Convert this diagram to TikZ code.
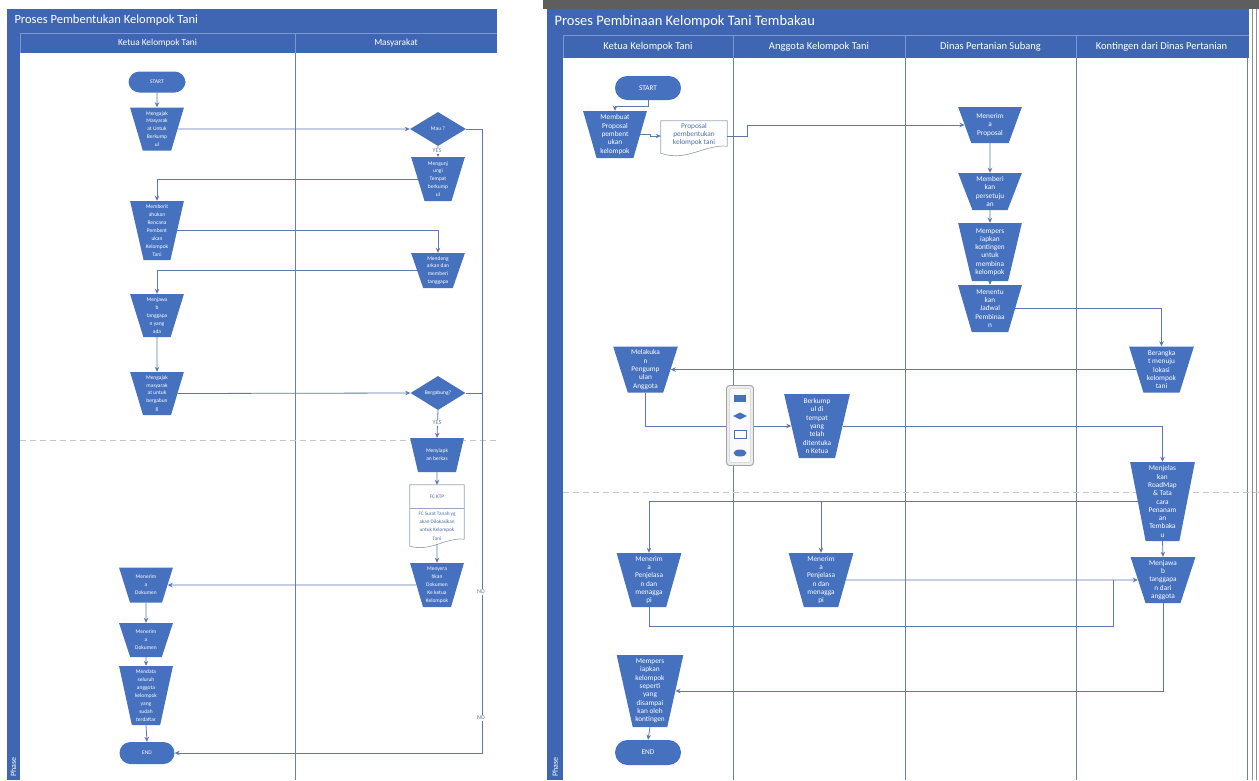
\documentclass[tikz,border=0pt]{standalone}
\usepackage{fontspec}
\setmainfont{Carlito}
\usetikzlibrary{shapes.geometric,arrows.meta,calc}

\definecolor{band}{HTML}{3E66B3}
\definecolor{boxblue}{HTML}{4571BE}
\definecolor{wire}{HTML}{5B79AC}
\definecolor{laneline}{HTML}{6C80A8}
\definecolor{seam}{HTML}{7A98D2}
\definecolor{dashgray}{HTML}{C6C6C6}
\definecolor{topbar}{HTML}{5E5E5E}
\definecolor{doctext}{HTML}{4E6DA6}
\definecolor{docedge}{HTML}{9AA6BC}
\definecolor{palgray}{HTML}{A2A2A2}
\definecolor{palfill}{HTML}{EDEDED}
\definecolor{tagtext}{HTML}{6E7B91}

\tikzset{
  link/.style={draw=wire, line width=0.8pt},
  flow/.style={link, -{Stealth[length=5pt,width=4.5pt]}},
  term/.style={rectangle, rounded corners=11pt, fill=boxblue, text=white, inner sep=0pt},
  proc/.style={trapezium, trapezium stretches=true, trapezium left angle=#1,
    trapezium right angle=#1, fill=boxblue, text=white, align=center, inner sep=1pt},
  decide/.style={diamond, aspect=1.6, fill=boxblue, text=white, inner sep=0pt},
  smallL/.style={font=\fontsize{5.5}{7.9}\selectfont},
  smallR/.style={font=\fontsize{7.3}{8.3}\selectfont},
  tag/.style={fill=white, text=tagtext, inner sep=0.8pt, font=\fontsize{6}{7}\selectfont},
  lanerule/.style={draw=laneline, line width=1pt},
  seamrule/.style={draw=seam, line width=0.6pt},
  phase/.style={rotate=90, text=white, font=\fontsize{8}{9}\selectfont},
  docline/.style={draw=docedge, fill=white, line width=0.7pt},
  doctxt/.style={text=doctext, align=center, inner sep=0pt},
  phaseline/.style={draw=dashgray, line width=0.9pt, dash pattern=on 6pt off 4pt},
}

\begin{document}
\begin{tikzpicture}[x=1pt,y=-1pt]
\useasboundingbox (0,0) rectangle (1259,780);
\fill[white] (0,0) rectangle (1259,780);

% ---------------- first pool: Proses Pembentukan Kelompok Tani ----------------
\fill[band] (7,9) rectangle (497,53);
\fill[band] (7,53) rectangle (20,780);
\draw[seamrule] (20,33) -- (497,33);
\draw[seamrule] (20,33) -- (20,53);
\draw[seamrule] (295,33) -- (295,53);
\draw[lanerule] (295,53) -- (295,780);
\draw[phaseline] (20,440) -- (497,440);

\node[anchor=west, text=white, font=\fontsize{12.5}{14}\selectfont] (L_title) at (11,20) {Proses Pembentukan Kelompok Tani};
\node[text=white, font=\fontsize{9.3}{11}\selectfont] (L_head1) at (157.5,43) {Ketua Kelompok Tani};
\node[text=white, font=\fontsize{9.3}{11}\selectfont] (L_head2) at (396,43) {Masyarakat};
\node[phase] (L_phase) at (13.5,767) {Phase};

% steps
\node[term, minimum width=57pt, minimum height=21pt, smallL] (L_start) at (157,82) {START};
\node[proc=106, minimum width=54pt, minimum height=43pt, smallL] (L_ajak) at (157,129) {Mengajak\\Masyarak\\at Untuk\\Berkump\\ul};
\node[decide, minimum width=56pt, minimum height=34pt, smallL] (L_mau) at (438,129) {Mau ?};
\node[proc=106.5, minimum width=54pt, minimum height=44pt, smallL] (L_kunjung) at (438,179) {Mengunj\\ungi\\Tempat\\berkump\\ul};
\node[proc=103, minimum width=54pt, minimum height=59pt, smallL] (L_tahu) at (157,230.5) {Memberit\\ahukan\\Rencana\\Pembent\\ukan\\Kelompok\\Tani};
\node[proc=108, minimum width=54pt, minimum height=35pt, smallL] (L_dengar) at (438,270.5) {Mendeng\\arkan dan\\memberi\\tanggapa};
\node[proc=106.5, minimum width=54pt, minimum height=43pt, smallL] (L_jawab) at (157,315.5) {Menjawa\\b\\tanggapa\\n yang\\ada};
\node[proc=106, minimum width=54pt, minimum height=43pt, smallL] (L_ajak2) at (157,393.5) {Mengajak\\masyarak\\at untuk\\bergabun\\g};
\node[decide, minimum width=55pt, minimum height=34pt, smallL] (L_gabung) at (438,393) {Bergabung?};
\node[proc=110, minimum width=54pt, minimum height=34pt, smallL] (L_siap) at (437,455) {Menyiapk\\an berkas};

% document with two parts
\node[minimum width=54pt, minimum height=58pt, inner sep=0pt] (L_doc) at (437,514) {};
\draw[docline] (L_doc.north west) -- (L_doc.north east) -- ($(L_doc.south east)+(0,-4)$)
  .. controls ($(L_doc.south east)+(-19,-6)$) and ($(L_doc.south west)+(21,9)$) .. ($(L_doc.south west)+(0,3)$) -- cycle;
\draw[docline] ($(L_doc.north west)+(0,24)$) -- ($(L_doc.north east)+(0,24)$);
\node[doctxt, font=\fontsize{5.2}{8.2}\selectfont] (L_doctop) at (437,497) {FC KTP};
\node[doctxt, font=\fontsize{5.2}{8.2}\selectfont] (L_docbody) at (437,526) {FC Surat Tanah yg\\akan Dilokasikan\\untuk Kelompok\\Tani};

\node[proc=106.5, minimum width=54pt, minimum height=44pt, smallL] (L_serah) at (437,585) {Menyera\\hkan\\Dokumen\\Ke ketua\\Kelompok};
\node[proc=110.5, minimum width=54pt, minimum height=35pt, smallL] (L_terima1) at (146,585) {Menerim\\a\\Dokumen};
\node[proc=111, minimum width=54pt, minimum height=34pt, smallL] (L_terima2) at (146,640) {Menerim\\a\\Dokumen};
\node[proc=101.5, minimum width=54pt, minimum height=59pt, smallL] (L_data) at (146,695.5) {Mendata\\seluruh\\anggota\\kelompok\\yang\\sudah\\terdaftar};
\node[term, minimum width=55pt, minimum height=22pt, smallL] (L_end) at (147,753) {END};
\coordinate (L_r1) at (482,129);
\coordinate (L_r2) at (482,753);

% flow
\draw[flow] (L_start.south) -- (L_ajak.north);
\draw[flow] (L_ajak.east) -- (L_mau.west);
\draw[flow] (L_mau.south) -- (L_kunjung.north);
\draw[flow] (L_kunjung.west) -| (L_tahu.north);
\draw[flow] (L_tahu.east) -| (L_dengar.north);
\draw[flow] (L_dengar.west) -| (L_jawab.north);
\draw[flow] (L_jawab.south) -- (L_ajak2.north);
\draw[flow] (L_ajak2.east) -- (L_gabung.west);
\draw[flow] (L_gabung.south) -- (L_siap.north);
\draw[flow] (L_siap.south) -- (L_doc.north);
\draw[flow] ($(L_doc.south)+(0,1)$) -- (L_serah.north);
\draw[flow] (L_serah.west) -- (L_terima1.east);
\draw[flow] (L_terima1.south) -- (L_terima2.north);
\draw[flow] (L_terima2.south) -- (L_data.north);
\draw[flow] (L_data.south) -- (L_end.north);
\draw[link] (L_mau.east) -- (L_r1);
\draw[link] (L_gabung.east) -- (L_gabung.east -| L_r1);
\draw[flow] (L_r1) -- (L_r2) -- (L_end.east);

\node[tag] (L_yes1) at (437,151) {YES};
\node[tag] (L_yes2) at (437,423) {YES};
\node[tag] (L_no1) at (481,592) {NO};
\node[tag] (L_no2) at (481,718) {NO};

% ---------------- second pool: Proses Pembinaan Kelompok Tani Tembakau ----------------
\fill[topbar] (543,0) rectangle (1259,9);
\fill[band] (547,9) rectangle (1249,58);
\fill[band] (547,58) rectangle (563,780);
\draw[seamrule] (563,35) -- (1249,35);
\foreach \xx in {563,733,905,1076} \draw[seamrule] (\xx,35) -- (\xx,58);
\foreach \xx in {733,905,1076,1247} \draw[lanerule] (\xx,58) -- (\xx,780);
\draw[draw=topbar!70, line width=0.8pt] (1252,9) -- (1252,780);
\draw[draw=topbar!70, line width=0.8pt] (1256,9) -- (1256,780);
\draw[phaseline] (563,492) -- (1259,492);

\node[anchor=west, text=white, font=\fontsize{14.5}{16}\selectfont] (R_title) at (551,22) {Proses Pembinaan Kelompok Tani Tembakau};
\node[text=white, font=\fontsize{10.5}{12}\selectfont] (R_head1) at (648,46.5) {Ketua Kelompok Tani};
\node[text=white, font=\fontsize{10.5}{12}\selectfont] (R_head2) at (819,46.5) {Anggota Kelompok Tani};
\node[text=white, font=\fontsize{10.5}{12}\selectfont] (R_head3) at (990.5,46.5) {Dinas Pertanian Subang};
\node[text=white, font=\fontsize{10.5}{12}\selectfont] (R_head4) at (1161.5,46.5) {Kontingen dari Dinas Pertanian};
\node[phase] (R_phase) at (555,767) {Phase};

% steps
\node[term, rounded corners=12pt, minimum width=66pt, minimum height=24pt, smallR] (R_start) at (648,88) {START};
\node[proc=105.5, minimum width=64pt, minimum height=47pt, smallR] (R_buat) at (615,134.5) {Membuat\\Proposal\\pembent\\ukan\\kelompok};

\node[minimum width=66pt, minimum height=30pt, inner sep=0pt] (R_doc) at (694,136) {};
\draw[docline] (R_doc.north west) -- (R_doc.north east) -- ($(R_doc.south east)+(0,-5)$)
  .. controls ($(R_doc.south east)+(-23,-7)$) and ($(R_doc.south west)+(26,11)$) .. ($(R_doc.south west)+(0,2)$) -- cycle;
\node[doctxt, font=\fontsize{7.3}{8}\selectfont] (R_doctext) at (694,135) {Proposal\\pembentukan\\kelompok tani};

\node[proc=112.6, minimum width=64pt, minimum height=36pt, smallR] (R_terima) at (990,125) {Menerim\\a\\Proposal};
\node[proc=111, minimum width=64pt, minimum height=37pt, smallR] (R_beri) at (990,191.5) {Memberi\\kan\\persetuju\\an};
\node[proc=103.6, minimum width=64pt, minimum height=58pt, smallR] (R_siapk) at (990,252) {Mempers\\iapkan\\kontingen\\untuk\\membina\\kelompok};
\node[proc=106.6, minimum width=64pt, minimum height=47pt, smallR] (R_tentu) at (990,308.5) {Menentu\\kan\\Jadwal\\Pembinaa\\n};
\node[proc=107, minimum width=65pt, minimum height=46pt, smallR] (R_berangkat) at (1161.5,369.5) {Berangka\\t menuju\\lokasi\\kelompok\\tani};
\node[proc=107, minimum width=65pt, minimum height=46pt, smallR] (R_lakukan) at (645.5,369.5) {Melakuka\\n\\Pengump\\ulan\\Anggota};
\node[proc=102.3, minimum width=66pt, minimum height=64pt, smallR] (R_kumpul) at (817,426) {Berkump\\ul di\\tempat\\yang\\telah\\ditentuka\\n Ketua};
\node[proc=100.8, minimum width=65pt, minimum height=79pt, smallR] (R_jelas) at (1162.5,501.5) {Menjelas\\kan\\RoadMap\\\& Tata\\cara\\Penanam\\an\\Tembaka\\u};
\node[proc=107, minimum width=65pt, minimum height=46pt, smallR] (R_jawab) at (1163,580) {Menjawa\\b\\tanggapa\\n dari\\anggota};
\node[proc=105, minimum width=65pt, minimum height=54pt, smallR] (R_terima1) at (649,580) {Menerim\\a\\Penjelasa\\n dan\\menagga\\pi};
\node[proc=105, minimum width=65pt, minimum height=54pt, smallR] (R_terima2) at (821,580) {Menerim\\a\\Penjelasa\\n dan\\menagga\\pi};
\node[proc=102.5, minimum width=67pt, minimum height=72pt, smallR] (R_persiap) at (650,691) {Mempers\\iapkan\\kelompok\\seperti\\yang\\disampai\\kan oleh\\kontingen};
\node[term, rounded corners=12.5pt, minimum width=66pt, minimum height=25pt, smallR] (R_end) at (648,752.5) {END};
\coordinate (R_m1) at (1113,626);

% flow
\draw[flow] (R_start.south) -- ++(0,6) -| (R_buat.north);
\draw[flow] (R_buat.east) -- ++(10,0) |- (R_doc.west);
\draw[flow] (R_doc.east) -- ++(20,0) |- (R_terima.west);
\draw[flow] (R_terima.south) -- (R_beri.north);
\draw[flow] (R_beri.south) -- (R_siapk.north);
\draw[flow] (R_siapk.south) -- (R_tentu.north);
\draw[flow] (R_tentu.east) -| (R_berangkat.north);
\draw[flow] (R_berangkat.west) -- (R_lakukan.east);
\draw[flow] (R_lakukan.south) |- (R_kumpul.west);
\draw[flow] (R_kumpul.east) -| (R_jelas.north);
\draw[flow] (R_jelas.west) -| (R_terima1.north);
\draw[flow] (R_jelas.west -| R_terima2.north) -- (R_terima2.north);
\draw[flow] (R_jelas.south) -- (R_jawab.north);
\draw[flow] (R_terima2.east) -- (R_jawab.west);
\draw[link] (R_terima1.south) |- (R_m1) -- (R_m1 |- R_jawab.west);
\draw[flow] (R_jawab.south) |- (R_persiap.east);
\draw[flow] (R_persiap.south) -- (R_end.north);

% shape palette floating over the lanes
\node[draw=palgray, fill=palfill, rounded corners=3pt, minimum width=27pt, minimum height=80pt, line width=0.9pt] (R_pal) at (740,425.5) {};
\node[draw=palgray!50, fill=white!96!gray, rounded corners=2pt, minimum width=21pt, minimum height=74pt, line width=0.5pt] (R_palin) at (740,425.5) {};
\node[fill=boxblue, minimum width=12pt, minimum height=7pt, inner sep=0pt] (R_icon1) at (740,398) {};
\node[diamond, fill=boxblue, aspect=2, minimum width=14pt, minimum height=7pt, inner sep=0pt] (R_icon2) at (740,416) {};
\node[draw=boxblue, fill=white, minimum width=12pt, minimum height=8pt, inner sep=0pt, line width=0.8pt] (R_icon3) at (740,434) {};
\node[ellipse, fill=boxblue, minimum width=13pt, minimum height=7pt, inner sep=0pt] (R_icon4) at (740,453) {};

\end{tikzpicture}
\end{document}
